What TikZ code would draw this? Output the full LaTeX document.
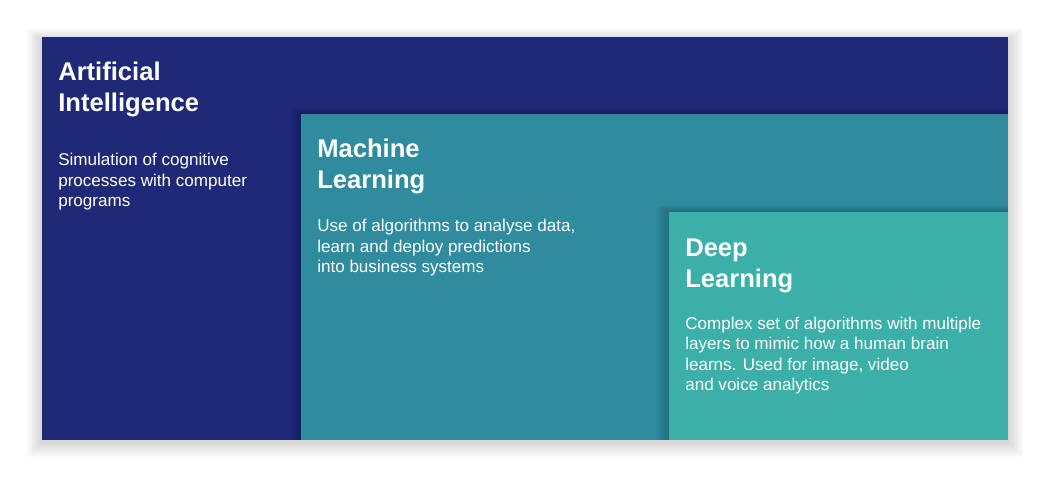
\documentclass[tikz,border=0pt]{standalone}
\usepackage{fontspec}
\setmainfont{Liberation Sans}
\usetikzlibrary{positioning}
\definecolor{aiblue}{RGB}{31,41,120}
\definecolor{mlteal}{RGB}{46,140,158}
\definecolor{dlteal}{RGB}{59,176,168}
\tikzstyle{box} = [rectangle, anchor=north west, inner sep=0pt, outer sep=0pt]
\tikzstyle{title} = [anchor=base west, inner sep=0pt, align=left, text=white, font=\fontsize{19.2}{23.25}\selectfont\bfseries]
\tikzstyle{desc} = [anchor=base west, inner sep=0pt, align=left, text=white, font=\fontsize{12.8}{15.4}\selectfont]

\begin{document}
\begin{tikzpicture}[x=0.75pt, y=-0.75pt]
	\useasboundingbox (0,0) rectangle (1050,477);
	% soft shadow round the whole panel
	\foreach \s in {1,...,20}
		\fill[black, opacity=0.007] (42-\s*0.8,40-\s*0.6) rectangle (1008+\s*0.8,442+\s*0.8);
	\node (ai) [box, fill=aiblue, minimum width=724.5pt, minimum height=302.25pt] at (42,37) {};
	% inner shadows on the left and top edges
	\foreach \s in {1,...,12}
		\fill[black, opacity=0.014] (301-\s,114-\s*0.5) rectangle (1008,440);
	\node (ml) [box, fill=mlteal, minimum width=530.25pt, minimum height=244.5pt] at (301,114) {};
	\foreach \s in {1,...,12}
		\fill[black, opacity=0.014] (669-\s,212-\s*0.5) rectangle (1008,440);
	\node (dl) [box, fill=dlteal, minimum width=254.25pt, minimum height=171pt] at (669,212) {};
	% base anchor sits on the last line
	\node (aititle) [title] at (58,112) {Artificial\\Intelligence};
	\node (aitext) [desc] at (58,207) {Simulation of cognitive\\processes with computer\\programs};
	\node (mltitle) [title] at (317,189) {Machine\\Learning};
	\node (mltext) [desc] at (317,273) {Use of algorithms to analyse data,\\learn and deploy predictions\\into business systems};
	\node (dltitle) [title] at (685,288) {Deep\\Learning};
	\node (dltext) [desc] at (685,391) {Complex set of algorithms with multiple\\layers to mimic how a human brain\\learns. Used for image, video\\and voice analytics};
\end{tikzpicture}
\end{document}
